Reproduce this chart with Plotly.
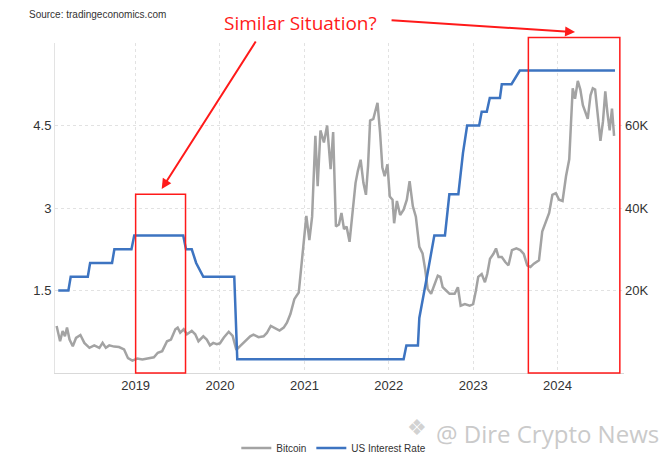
"""Bitcoin vs US interest rate, with the two 'similar situation' boxes"""
import plotly.graph_objects as go

# US interest rate (upper bound, %), drawn with short ramps between steps
rate_dates = [
    "2018-01-31", "2018-03-16", "2018-03-26", "2018-06-08", "2018-06-18",
    "2018-09-21", "2018-10-01", "2018-12-14", "2018-12-26", "2019-07-26",
    "2019-08-07", "2019-09-01", "2019-09-20", "2019-10-21", "2020-03-03",
    "2020-03-16", "2022-03-06", "2022-03-18", "2022-05-07", "2022-05-13",
    "2022-06-15", "2022-07-17", "2022-09-01", "2022-09-20", "2022-10-29",
    "2022-11-18", "2022-12-06", "2023-01-27", "2023-02-07", "2023-03-01",
    "2023-03-14", "2023-04-27", "2023-05-05", "2023-06-16", "2023-07-22",
    "2024-09-06",
]
rate_values = [
    1.5, 1.5, 1.75, 1.75, 2.0,
    2.0, 2.25, 2.25, 2.5, 2.5,
    2.25, 2.25, 2.0, 1.75, 1.75,
    0.25, 0.25, 0.5, 0.5, 1.0,
    1.75, 2.5, 2.5, 3.25, 3.25,
    4.0, 4.5, 4.5, 4.75, 4.75,
    5.0, 5.0, 5.25, 5.25, 5.5,
    5.5,
]

# Bitcoin price (USD)
btc_dates = [
    "2018-01-24", "2018-02-08", "2018-02-19", "2018-03-01", "2018-03-10",
    "2018-03-21", "2018-04-04", "2018-04-18", "2018-05-07", "2018-05-24",
    "2018-06-15", "2018-07-06", "2018-07-28", "2018-08-11", "2018-08-25",
    "2018-09-09", "2018-09-30", "2018-10-21", "2018-11-12", "2018-11-29",
    "2018-12-18", "2019-01-08", "2019-01-30", "2019-02-20", "2019-03-21",
    "2019-04-07", "2019-04-26", "2019-05-17", "2019-06-03", "2019-06-22",
    "2019-07-02", "2019-07-13", "2019-07-28", "2019-08-11", "2019-09-01",
    "2019-09-16", "2019-09-30", "2019-10-21", "2019-11-05", "2019-11-19",
    "2019-12-03", "2019-12-18", "2020-01-01", "2020-01-18", "2020-02-08",
    "2020-02-25", "2020-03-12", "2020-03-28", "2020-04-19", "2020-05-11",
    "2020-05-25", "2020-06-16", "2020-07-08", "2020-07-22", "2020-08-08",
    "2020-08-27", "2020-09-15", "2020-10-03", "2020-10-17", "2020-11-01",
    "2020-11-18", "2020-12-07", "2020-12-14", "2020-12-26", "2021-01-09",
    "2021-01-22", "2021-02-03", "2021-02-17", "2021-02-27", "2021-03-11",
    "2021-03-26", "2021-04-09", "2021-04-24", "2021-05-05", "2021-05-17",
    "2021-05-30", "2021-06-10", "2021-06-21", "2021-07-02", "2021-07-15",
    "2021-07-27", "2021-08-10", "2021-08-20", "2021-09-01", "2021-09-13",
    "2021-09-24", "2021-10-03", "2021-10-12", "2021-10-26", "2021-11-13",
    "2021-11-24", "2021-12-04", "2021-12-14", "2021-12-26", "2022-01-05",
    "2022-01-17", "2022-01-24", "2022-02-05", "2022-02-19", "2022-03-06",
    "2022-03-20", "2022-04-01", "2022-04-15", "2022-04-28", "2022-05-13",
    "2022-05-27", "2022-06-08", "2022-06-18", "2022-07-03", "2022-07-17",
    "2022-08-01", "2022-08-12", "2022-08-22", "2022-09-06", "2022-09-21",
    "2022-10-13", "2022-10-27", "2022-11-08", "2022-11-26", "2022-12-17",
    "2023-01-01", "2023-01-13", "2023-01-23", "2023-02-07", "2023-02-21",
    "2023-03-03", "2023-03-15", "2023-03-30", "2023-04-10", "2023-04-21",
    "2023-05-05", "2023-05-20", "2023-06-03", "2023-06-18", "2023-07-07",
    "2023-07-24", "2023-08-08", "2023-08-23", "2023-09-06", "2023-09-21",
    "2023-10-13", "2023-10-27", "2023-11-11", "2023-11-26", "2023-12-10",
    "2023-12-25", "2024-01-08", "2024-01-23", "2024-02-07", "2024-02-21",
    "2024-02-28", "2024-03-07", "2024-03-17", "2024-03-29", "2024-04-09",
    "2024-04-20", "2024-05-01", "2024-05-11", "2024-05-23", "2024-06-02",
    "2024-06-12", "2024-06-24", "2024-07-05", "2024-07-16", "2024-07-26",
    "2024-08-04", "2024-08-14", "2024-08-24", "2024-09-02",
]
btc_values = [
    11400, 7700, 10200, 8900, 11000,
    8100, 6500, 8500, 9200, 7300,
    6100, 6700, 6100, 7300, 6100,
    6700, 6400, 6300, 5700, 3600,
    3000, 3500, 3300, 3500, 3800,
    4900, 5300, 7700, 8100, 10600,
    11000, 9800, 10600, 9400, 10200,
    9400, 7700, 8900, 8100, 6700,
    7300, 7000, 7200, 8600, 10000,
    9000, 5600, 6500, 7700, 8900,
    9300, 8700, 8900, 9700, 11400,
    10800, 10300, 11000, 12200, 14300,
    17900, 19500, 23200, 29800, 38100,
    32200, 37900, 57500, 45300, 58800,
    55900, 60000, 49400, 58400, 35500,
    36000, 38800, 34900, 35500, 31800,
    38800, 46100, 49000, 51700, 46100,
    43200, 50200, 61200, 61600, 65500,
    58400, 49800, 47700, 50600, 42800,
    42000, 36300, 41700, 38300, 39600,
    42000, 46500, 40400, 37900, 30600,
    29000, 24900, 20400, 19200, 21600,
    23600, 23300, 20800, 20000, 19200,
    19200, 20800, 16300, 16700, 16300,
    16700, 20000, 23300, 24000, 22000,
    24000, 27700, 28900, 30200, 28100,
    28100, 26900, 26100, 29800, 30200,
    29800, 28900, 26100, 25700, 26500,
    27300, 34300, 36700, 38800, 43200,
    43600, 42000, 41700, 47700, 51800,
    60000, 69000, 66500, 70800, 68700,
    64900, 63200, 61600, 67300, 69000,
    68700, 61600, 56300, 61000, 68300,
    63200, 58800, 64100, 57500,
]

year_ticks = ["2019-01-01", "2020-01-01", "2021-01-01", "2022-01-01",
              "2023-01-01", "2024-01-01"]
year_labels = ["2019", "2020", "2021", "2022", "2023", "2024"]
rate_ticks = [1.5, 3, 4.5]
btc_ticks = [20000, 40000, 60000, 80000]
btc_labels = ["20K", "40K", "60K", ""]

GRID = "#e2e2e2"
TXT = "#333333"
RED = "#ff1a1a"

fig = go.Figure()
# bitcoin sits on the base axis (right side) so the rate line is drawn over it
fig.add_trace(
    go.Scatter(
        x=btc_dates, y=btc_values, name="Bitcoin", mode="lines",
        line={"color": "#a3a3a3", "width": 2.5}, yaxis="y",
    )
)
fig.add_trace(
    go.Scatter(
        x=rate_dates, y=rate_values, name="US Interest Rate", mode="lines",
        line={"color": "#3d74c1", "width": 2.5}, yaxis="y2",
    )
)

# page body has an 8px margin, so the figure is a bit smaller than the window
fig.update_layout(
    width=661,
    height=449,
    margin={"l": 47, "r": 45, "t": 35, "b": 84, "autoexpand": False},
    paper_bgcolor="white",
    plot_bgcolor="white",
    font={"family": "Liberation Sans, Arial, sans-serif", "size": 13, "color": TXT},
    showlegend=True,
    legend={
        "orientation": "h", "x": 0.49, "xanchor": "center",
        "y": -0.227, "yanchor": "middle",
        "font": {"size": 10, "color": TXT}, "itemwidth": 30,
    },
    xaxis={
        "type": "date",
        "range": ["2018-01-17", "2024-10-15"],
        "tickvals": year_ticks,
        "ticktext": year_labels,
        "showgrid": True, "gridcolor": GRID, "griddash": "dot",
        "showline": True, "linecolor": "#d9d9d9", "linewidth": 1,
        "ticks": "", "zeroline": False,
        "tickfont": {"size": 13, "color": TXT},
    },
    yaxis={
        "side": "right",
        "range": [0, 80000],
        "tickvals": btc_ticks,
        "ticktext": btc_labels,
        "showgrid": True, "gridcolor": GRID, "griddash": "dot",
        "zeroline": False, "ticks": "",
        "tickfont": {"size": 13, "color": TXT},
    },
    yaxis2={
        "overlaying": "y", "side": "left",
        "range": [0, 6],
        "tickvals": rate_ticks,
        "ticktext": ["1.5", "3", "4.5"],
        "showgrid": False, "zeroline": False, "ticks": "",
        "showline": True, "linecolor": "#e3e3e3",
        "tickfont": {"size": 13, "color": TXT},
    },
)

# the two highlight boxes
fig.add_shape(
    type="rect", xref="x", yref="paper",
    x0="2019-01-01", x1="2019-08-05", y0=0, y1=0.542,
    line={"color": RED, "width": 1.5}, fillcolor="rgba(0,0,0,0)",
)
fig.add_shape(
    type="rect", xref="x", yref="paper",
    x0="2023-08-28", x1="2024-09-27", y0=0, y1=1.017,
    line={"color": RED, "width": 1.5}, fillcolor="rgba(0,0,0,0)",
)

# arrows from the question to the boxes
fig.add_annotation(
    xref="paper", yref="paper", x=0.1875, y=0.5576,
    ax=95, ay=-149, text="", showarrow=True,
    arrowhead=2, arrowsize=1, arrowwidth=2, arrowcolor=RED,
)
fig.add_annotation(
    xref="paper", yref="paper", x=0.914, y=1.033,
    ax=-185, ay=-12, text="", showarrow=True,
    arrowhead=2, arrowsize=1, arrowwidth=2, arrowcolor=RED,
)

fig.add_annotation(
    xref="paper", yref="paper", x=0.432, y=1.106,
    text="Similar Situation?", showarrow=False,
    xanchor="center", yanchor="top",
    font={"family": "Open Sans, sans-serif", "size": 19, "color": RED},
)
fig.add_annotation(
    xref="paper", yref="paper", x=-0.049, y=1.085,
    text="Source: tradingeconomics.com", showarrow=False,
    xanchor="left", yanchor="middle",
    font={"size": 10, "color": TXT},
)
# watermark: logo + text
fig.add_annotation(
    xref="paper", yref="paper", x=0.636, y=-0.164,
    text="❖", showarrow=False,
    xanchor="center", yanchor="middle",
    font={"family": "DejaVu Sans, sans-serif", "size": 22, "color": "#d2d2d2"},
)
fig.add_annotation(
    xref="paper", yref="paper", x=1.065, y=-0.182,
    text="@ Dire Crypto News", showarrow=False,
    xanchor="right", yanchor="middle",
    font={"family": "Open Sans, sans-serif", "size": 24, "color": "#cacaca"},
)

fig.write_html("out.html")
